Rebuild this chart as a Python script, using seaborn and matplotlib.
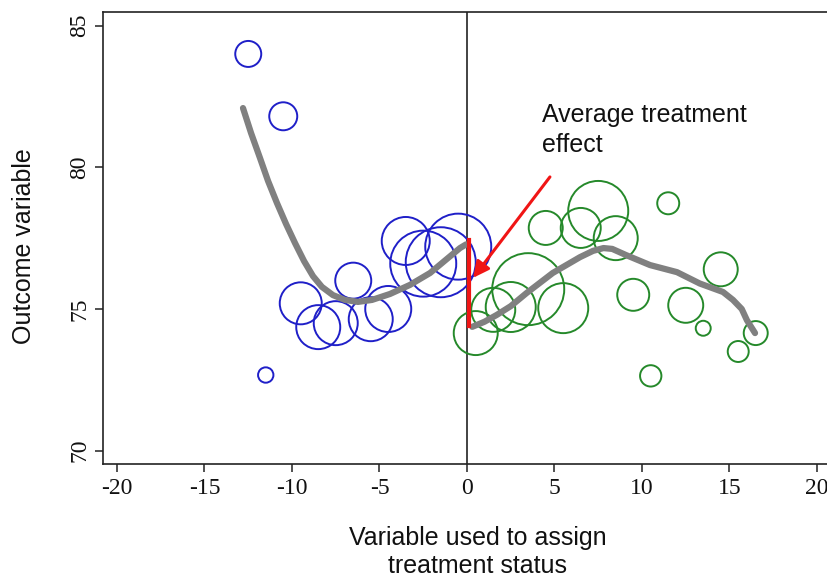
import matplotlib
matplotlib.use("Agg")
import matplotlib.pyplot as plt
import seaborn as sns
import pandas as pd
import numpy as np

# ---- data ----
left_x = [-12.5, -11.5, -10.5, -9.5, -8.5, -7.5, -6.5, -5.5, -4.5, -3.5, -2.5, -1.5, -0.5]
left_y = [84.0, 72.67, 81.8, 75.2, 74.36, 74.5, 76.0, 74.64, 75.0, 77.4, 76.6, 76.65, 77.2]
left_w = [169, 59, 196, 441, 484, 484, 324, 484, 529, 576, 1089, 1225, 1089]

right_x = [0.5, 1.5, 2.5, 3.5, 4.5, 5.5, 6.5, 7.5, 8.5, 9.5, 10.5, 11.5, 12.5, 13.5, 14.5, 15.5, 16.5]
right_y = [74.15, 74.97, 75.07, 75.7, 77.86, 75.03, 77.86, 78.46, 77.5, 75.5, 72.64, 78.73, 75.13, 74.32, 76.4, 73.5, 74.15]
right_w = [484, 484, 625, 1296, 289, 625, 400, 900, 484, 256, 114, 121, 306, 56, 289, 110, 144]

fit_left_x = [-12.8, -12.34, -11.83, -11.37, -10.86, -10.34, -9.83, -9.31, -8.8, -8.29, -7.66,
              -6.97, -6.23, -5.43, -4.4, -3.26, -2.11, -1.14, -0.4, -0.05]
fit_left_y = [82.09, 81.21, 80.33, 79.52, 78.74, 78.0, 77.33, 76.69, 76.16, 75.78, 75.49,
              75.32, 75.25, 75.32, 75.53, 75.85, 76.27, 76.77, 77.15, 77.28]

fit_right_x = [0.3, 1.0, 1.7, 2.5, 3.4, 4.9, 6.46, 7.2, 7.8, 8.3, 9.1, 10.46, 12.0, 13.3, 14.63, 15.2, 15.7, 16.0, 16.46]
fit_right_y = [74.37, 74.55, 74.79, 75.1, 75.56, 76.27, 76.83, 77.05, 77.15, 77.12, 76.9, 76.55, 76.3, 75.9, 75.6, 75.32, 75.0, 74.6, 74.15]

effect_x = [0.1, 0.1]
effect_y = [74.4, 77.42]

x_ticks = [-20, -15, -10, -5, 0, 5, 10, 15, 20]
y_ticks = [70, 75, 80, 85]

annot_text = "Average treatment\neffect"
x_label = "Variable used to assign\ntreatment status"
y_label = "Outcome variable"

# ---- styling ----
sns.set_theme(style="white")
plt.rcParams["font.family"] = ["Liberation Sans", "DejaVu Sans"]

BLUE = "#1f1fc8"
GREEN = "#25892a"
GRAY = "#808080"
RED = "#f01515"

fig = plt.figure(figsize=(8.28, 5.84), dpi=100)
ax = fig.add_axes([103 / 828, 120 / 584, 725 / 828, 452 / 584])

wmax = max(max(left_w), max(right_w))
smax = 2.0736 * wmax

dl = pd.DataFrame({"x": left_x, "y": left_y, "w": left_w})
dr = pd.DataFrame({"x": right_x, "y": right_y, "w": right_w})

sns.scatterplot(data=dl, x="x", y="y", size="w", sizes=(0, smax), size_norm=(0, wmax),
                facecolors="none", edgecolor=BLUE, linewidth=1.4, legend=False, ax=ax, zorder=2)
sns.scatterplot(data=dr, x="x", y="y", size="w", sizes=(0, smax), size_norm=(0, wmax),
                facecolors="none", edgecolor=GREEN, linewidth=1.4, legend=False, ax=ax, zorder=2)

sns.lineplot(x=fit_left_x, y=fit_left_y, sort=False, estimator=None, color=GRAY,
             linewidth=4.5, ax=ax, zorder=3, solid_capstyle="round", solid_joinstyle="round")
sns.lineplot(x=fit_right_x, y=fit_right_y, sort=False, estimator=None, color=GRAY,
             linewidth=4.5, ax=ax, zorder=3, solid_capstyle="round", solid_joinstyle="round")

ax.axvline(0, color="#222222", linewidth=1.2, zorder=1)
ax.plot(effect_x, effect_y, color=RED, linewidth=3, zorder=4, solid_capstyle="projecting")

ax.annotate("", xy=(0.35, 76.1), xytext=(4.74, 79.66),
            arrowprops=dict(arrowstyle="-|>", color=RED, lw=2.2, mutation_scale=24,
                            shrinkA=0, shrinkB=0), zorder=5)
ax.text(4.3, 82.27, annot_text, ha="left", va="top", fontsize=18, linespacing=1.3,
        color="#111111", family=["Liberation Sans", "DejaVu Sans"])

ax.set_xlim(-20.8, 20.63)
ax.set_ylim(69.53, 85.48)
ax.set_xticks(x_ticks)
ax.set_xticklabels([str(t) for t in x_ticks])
ax.set_yticks(y_ticks)
ax.set_yticklabels([str(t) for t in y_ticks], rotation=90, va="center")

for lab in ax.get_xticklabels() + ax.get_yticklabels():
    lab.set_family(["Liberation Serif", "DejaVu Serif"])
    lab.set_fontsize(17)
    lab.set_color("#111111")

ax.tick_params(axis="both", direction="out", length=6, width=1.1, color="#222222",
               bottom=True, left=True)
ax.tick_params(axis="x", pad=4)
ax.tick_params(axis="y", pad=3)

for side in ["left", "bottom", "top"]:
    ax.spines[side].set_color("#222222")
    ax.spines[side].set_linewidth(1.2)
ax.spines["right"].set_visible(False)

ax.set_xlabel(x_label, fontsize=18, va="center", color="#111111")
ax.xaxis.set_label_coords(0.517, -0.195)
ax.set_ylabel(y_label, fontsize=18, va="center", color="#111111")
ax.yaxis.set_label_coords(-0.109, 0.482)

fig.savefig("out.png", dpi=100)
